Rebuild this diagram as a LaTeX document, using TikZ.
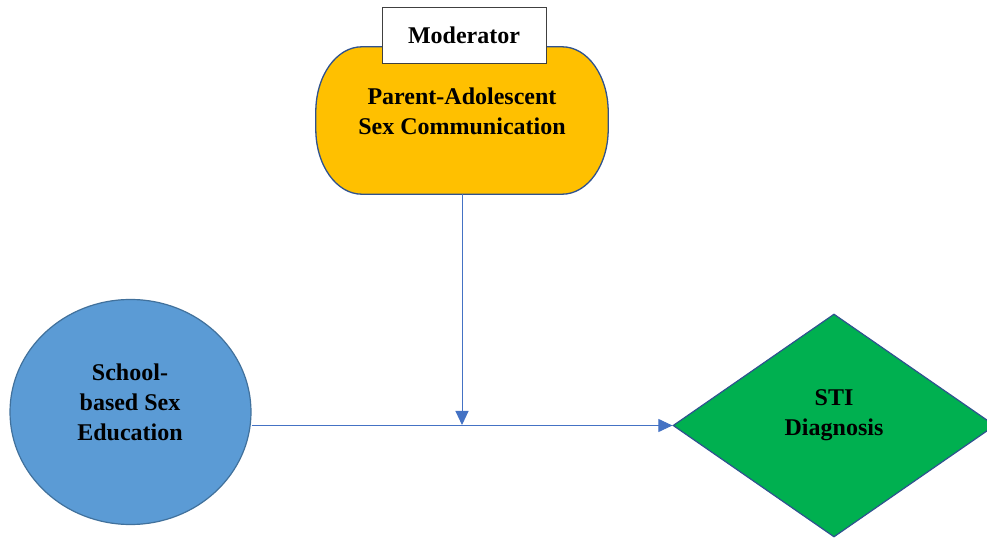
\documentclass[tikz,border=0pt]{standalone}
\usepackage{fontspec}
\setmainfont{Liberation Serif}
\usetikzlibrary{shapes.geometric,arrows.meta}
\definecolor{arrowblue}{HTML}{4472C4}
\definecolor{ellfill}{HTML}{5B9BD5}
\definecolor{elldraw}{HTML}{41719C}
\definecolor{goldfill}{HTML}{FFC000}
\definecolor{navydraw}{HTML}{2F528F}
\definecolor{greenfill}{HTML}{00B050}
\begin{document}
\begin{tikzpicture}[x=1pt,y=1pt,
  lbl/.style={font=\fontsize{24}{30}\selectfont\bfseries, align=center, inner sep=0pt},
  conn/.style={draw=arrowblue, line width=1pt, -{Triangle[length=14pt,width=13pt]}}]
\useasboundingbox (0,0) rectangle (987,538);
% School-based ellipse
\node[ellipse, draw=elldraw, line width=1.2pt, fill=ellfill, minimum width=241pt, minimum height=225pt, inner sep=0pt] (ell) at (130.5,126) {};
\node[lbl] (elltext) at (130,136) {School-\\based Sex\\Education};
% STI diamond
\node[diamond, draw=navydraw, line width=1.2pt, fill=greenfill, minimum width=322pt, minimum height=223pt, inner sep=0pt] (sti) at (834,112.5) {};
\node[lbl] (stitext) at (834,123) {STI\\Diagnosis};
% Parent-adolescent rounded box
\node[minimum width=292pt, minimum height=147pt, inner sep=0pt] (pac) at (462,417.5) {};
\draw[draw=navydraw, line width=1.3pt, fill=goldfill]
  ([xshift=46pt]pac.north west) -- ([xshift=-46pt]pac.north east)
  arc[start angle=90, end angle=0, x radius=46pt, y radius=65pt]
  -- ([yshift=65pt]pac.south east)
  arc[start angle=0, end angle=-90, x radius=46pt, y radius=65pt]
  -- ([xshift=46pt]pac.south west)
  arc[start angle=270, end angle=180, x radius=46pt, y radius=65pt]
  -- ([yshift=-65pt]pac.north west)
  arc[start angle=180, end angle=90, x radius=46pt, y radius=65pt]
  -- cycle;
\node[lbl] (pactext) at (462,427) {Parent-Adolescent\\Sex Communication};
% Moderator box
\node[draw=black!75, line width=0.8pt, fill=white, minimum width=164pt, minimum height=56pt, inner sep=0pt, font=\fontsize{24}{30}\selectfont\bfseries] (mod) at (464,503) {Moderator};
% connectors
\coordinate (mid) at (462,113);
\draw[conn] (ell.east |- sti.west) -- (sti.west);
\draw[conn] (pac.south) -- (mid);
\end{tikzpicture}
\end{document}
